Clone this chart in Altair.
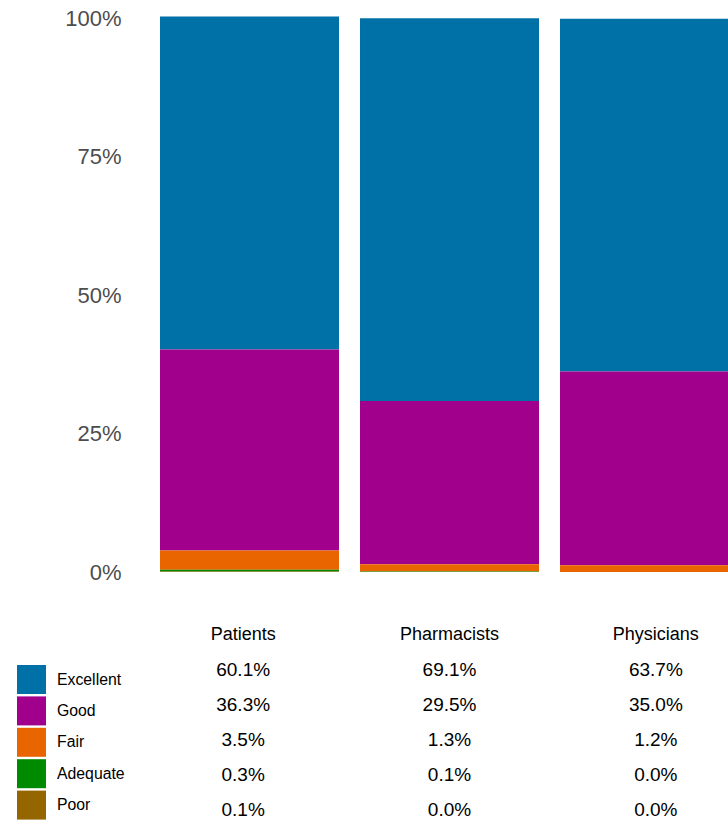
import altair as alt
import pandas as pd

groups = ["Patients", "Pharmacists", "Physicians"]
categories = ["Excellent", "Good", "Fair", "Adequate", "Poor"]
colors = ["#0071a6", "#a1008d", "#e86500", "#008a00", "#956600"]
patients = [60.1, 36.3, 3.5, 0.3, 0.1]
pharmacists = [69.1, 29.5, 1.3, 0.1, 0.0]
physicians = [63.7, 35.0, 1.2, 0.0, 0.0]
tick_values = [0, 0.25, 0.5, 0.75, 1.0]

rows = []
for g, vals in zip(groups, [patients, pharmacists, physicians]):
    for i, (c, v) in enumerate(zip(categories, vals)):
        rows.append({"group": g, "category": c, "row": c, "frac": v / 100.0,
                     "ord": len(categories) - i})
df = pd.DataFrame(rows)
header = pd.DataFrame({"group": groups, "row": ["header"] * len(groups)})

FONT = "Liberation Sans"

# band scale wider than the visible plot: third bar is cut at the right edge
xscale = alt.Scale(domain=groups, paddingInner=0.105, paddingOuter=0.1, range=[0, 619])
xenc = alt.X("group:N", sort=groups, scale=xscale, axis=None)

bars = alt.Chart(df).mark_bar(clip=True).encode(
    x=xenc,
    y=alt.Y("frac:Q", stack="zero",
            scale=alt.Scale(domain=[0, 1.004], nice=False, zero=True),
            axis=alt.Axis(values=tick_values, format=".0%", labelFontSize=22,
                          labelColor="#4d4d4d", labelPadding=19, grid=False,
                          ticks=False, domain=False, title=None, labelFont=FONT)),
    color=alt.Color("category:N",
                    scale=alt.Scale(domain=categories, range=colors),
                    legend=alt.Legend(title=None, orient="none", legendX=-123, legendY=649,
                                      symbolType="square", symbolSize=841,
                                      symbolStrokeWidth=0, symbolOpacity=1,
                                      labelFontSize=15.8, labelOffset=11, rowPadding=2.4,
                                      labelColor="black", labelFont=FONT)),
    order=alt.Order("ord:Q", sort="ascending"),
).properties(width=588, height=556)

yrow = alt.Y("row:N", scale=alt.Scale(type="point", domain=["header"] + categories, padding=0),
             axis=None)

hdr = alt.Chart(header).mark_text(fontSize=18, font=FONT, color="black").encode(
    x=xenc, y=yrow, text="group:N")
vals_text = alt.Chart(df).mark_text(fontSize=19, font=FONT, color="black").encode(
    x=xenc, y=yrow, text=alt.Text("frac:Q", format=".1%"))
table = alt.layer(hdr, vals_text).properties(width=588, height=175)

chart = alt.vconcat(bars, table, spacing=63, bounds="flush").properties(
    padding={"left": 17, "top": 7, "right": 0, "bottom": 0}
).configure_view(stroke=None)

chart.save("out.html", embed_options={"renderer": "svg", "actions": False})
